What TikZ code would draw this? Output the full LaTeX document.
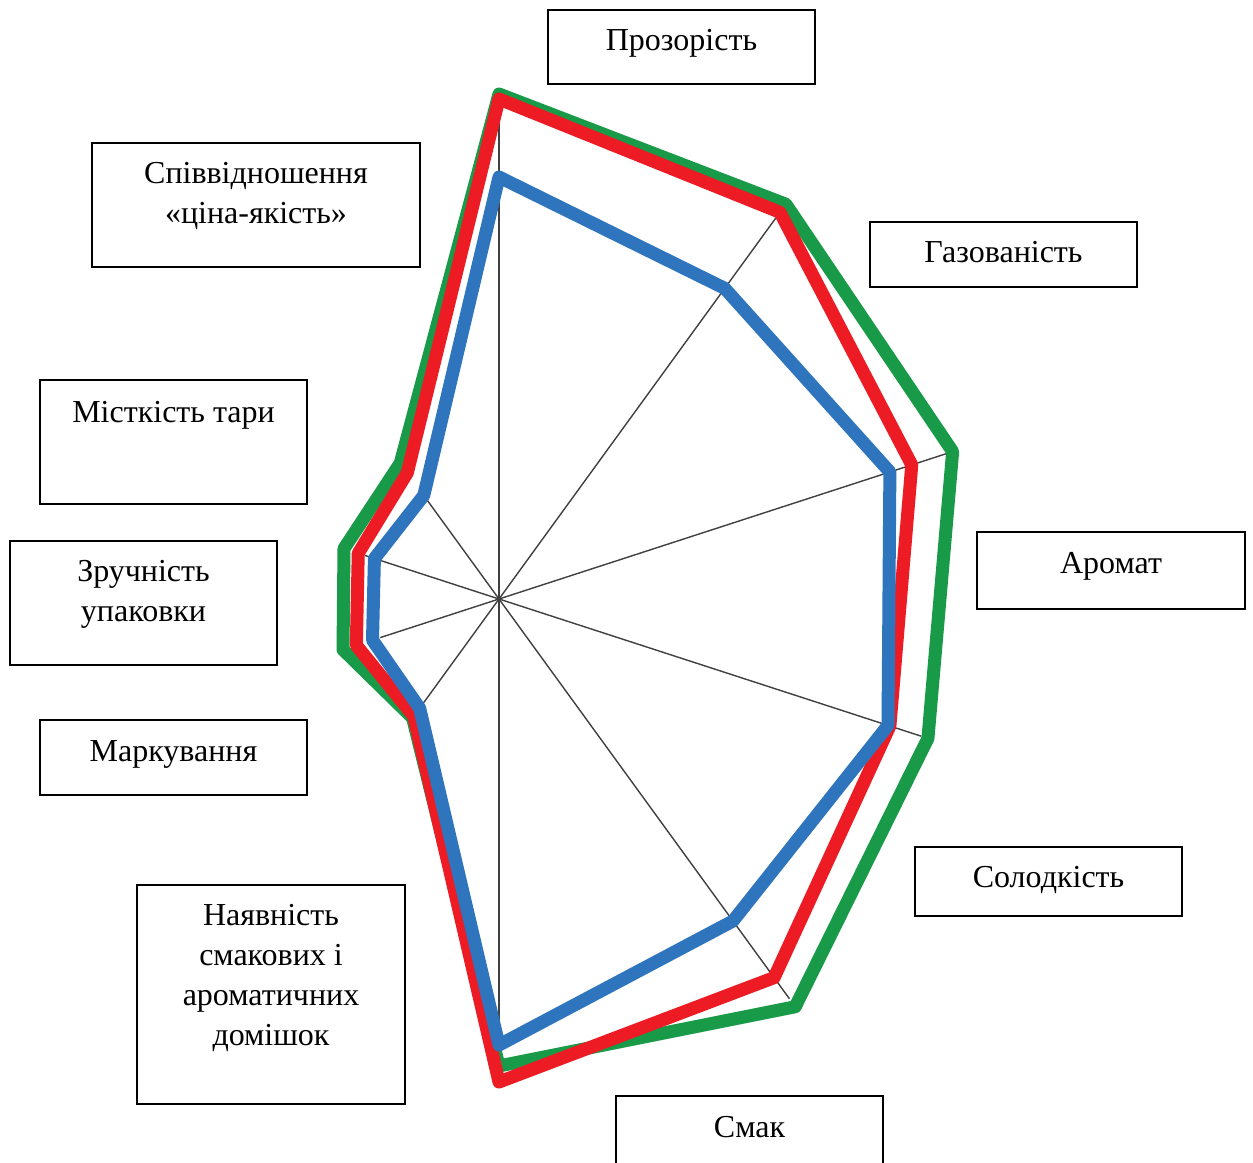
\documentclass[tikz,border=0pt]{standalone}
\usepackage{fontspec}
\setmainfont{Liberation Serif}
\definecolor{sgreen}{RGB}{24,154,72}
\definecolor{sred}{RGB}{237,28,36}
\definecolor{sblue}{RGB}{46,117,190}
\begin{document}
\begin{tikzpicture}[x=1pt,y=-1pt,
  box/.style={draw=black, line width=2.4pt, inner sep=0pt},
  lbl/.style={font=\fontsize{32}{40}\selectfont, inner sep=0pt, anchor=base},
  spoke/.style={draw=black!75, line width=1.4pt},
  series/.style={line width=13pt, line join=round}]
\useasboundingbox (0,0) rectangle (1253,1162);
\clip (0,0) rectangle (1253,1162);
\fill[white] (0,0) rectangle (1253,1162);

\coordinate (C) at (499,599);
\begin{scope}[shift={(C)}]
  \foreach \a/\r in {-90/500,-54/471,-18/470,18/444,54/494,90/446,126/133,162/125,198/141,234/126}
    \draw[spoke] (0,0) -- (\a:\r);
  \draw[series, sgreen] (-90:505) -- (-54:488) -- (-18:477) -- (18:451) -- (54:504) -- (90:467) -- (126:147) -- (162:164) -- (198:163) -- (234:168) -- cycle;
  \draw[series, sred] (-90:500) -- (-54:478) -- (-18:434) -- (18:411) -- (54:468) -- (90:483) -- (126:145) -- (162:150) -- (198:148) -- (234:156) -- cycle;
  \draw[series, sblue] (-90:422) -- (-54:384) -- (-18:411) -- (18:409) -- (54:398) -- (90:446) -- (126:135) -- (162:133) -- (198:131) -- (234:128) -- cycle;
\end{scope}

% label boxes
\node[box, minimum width=267pt, minimum height=74pt] (bProz) at (681.5,47) {};
\node[lbl] (tProz) at (681.5,50) {Прозорість};

\node[box, minimum width=267pt, minimum height=65pt] (bGaz) at (1003.5,254.5) {};
\node[lbl] (tGaz) at (1003.5,262) {Газованість};

\node[box, minimum width=268pt, minimum height=77pt] (bArom) at (1111,570.5) {};
\node[lbl] (tArom) at (1111,573) {Аромат};

\node[box, minimum width=267pt, minimum height=69pt] (bSol) at (1048.5,881.5) {};
\node[lbl] (tSol) at (1048.5,887) {Солодкість};

\node[box, minimum width=267pt, minimum height=84pt] (bSmak) at (749.5,1138) {};
\node[lbl] (tSmak) at (749.5,1137) {Смак};

\node[box, minimum width=268pt, minimum height=219pt] (bNay) at (271,994.5) {};
\node[lbl] (tNay) at (271,925) {\begin{tabular}[t]{@{}c@{}}Наявність\\смакових і\\ароматичних\\домішок\end{tabular}};

\node[box, minimum width=267pt, minimum height=75pt] (bMark) at (173.5,757.5) {};
\node[lbl] (tMark) at (173.5,761) {Маркування};

\node[box, minimum width=267pt, minimum height=124pt] (bZruch) at (143.5,603) {};
\node[lbl] (tZruch) at (143.5,581) {\begin{tabular}[t]{@{}c@{}}Зручність\\упаковки\end{tabular}};

\node[box, minimum width=267pt, minimum height=124pt] (bMist) at (173.5,442) {};
\node[lbl] (tMist) at (173.5,422) {Місткість тари};

\node[box, minimum width=328pt, minimum height=124pt] (bSpiv) at (256,205) {};
\node[lbl] (tSpiv) at (256,183) {\begin{tabular}[t]{@{}c@{}}Співвідношення\\«ціна-якість»\end{tabular}};
\end{tikzpicture}
\end{document}
